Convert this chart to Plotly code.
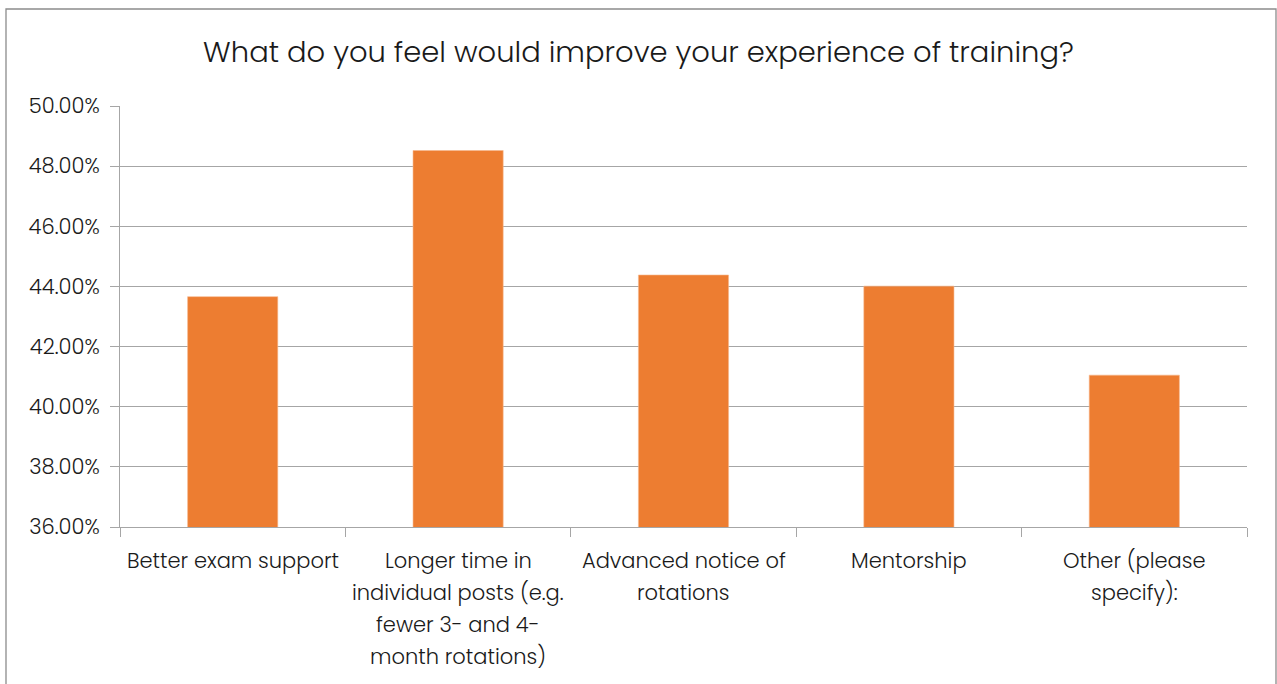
import plotly.graph_objects as go

# Survey responses: share of respondents choosing each option
categories = [
    "Better exam support",
    "Longer time in individual posts (e.g. fewer 3- and 4-month rotations)",
    "Advanced notice of rotations",
    "Mentorship",
    "Other (please specify):",
]
label_lines = [
    ["Better exam support"],
    ["Longer time in", "individual posts (e.g.", "fewer 3- and 4-", "month rotations)"],
    ["Advanced notice of", "rotations"],
    ["Mentorship"],
    ["Other (please", "specify):"],
]
values = [0.4366, 0.4852, 0.4438, 0.4401, 0.4105]
y_ticks = [0.36, 0.38, 0.40, 0.42, 0.44, 0.46, 0.48, 0.50]

FONT = "Poppins, Open Sans, DejaVu Sans, sans-serif"
TEXT = "#1a1a1a"
GRID = "#a6a6a6"

fig = go.Figure(
    go.Bar(
        x=categories,
        y=values,
        marker=dict(color="#ED7D31", line=dict(color="#f6b98f", width=0.6)),
        hoverinfo="x+y",
    )
)

# Wrapped category labels, one annotation per line
annotations = []
for cat, lines in zip(categories, label_lines):
    for i, line in enumerate(lines):
        annotations.append(
            dict(
                x=cat, xref="x", y=0, yref="paper",
                text=line, showarrow=False,
                yanchor="middle", yshift=-33 - 32 * i,
                font=dict(family=FONT, size=21, color=TEXT, weight=300),
            )
        )

# Outer chart frame
plot_l, plot_r, plot_t, plot_b = 120, 1247, 106, 527
pw, ph = plot_r - plot_l, plot_b - plot_t
fig.add_shape(
    type="rect", xref="paper", yref="paper",
    x0=(6 - plot_l) / pw, x1=(1276 - plot_l) / pw,
    y0=-(700 - plot_b) / ph, y1=1 + (plot_t - 9) / ph,
    line=dict(color="#8c8c8c", width=1.3), layer="below",
)

fig.update_layout(
    width=1277, height=684,
    margin=dict(l=plot_l, r=1277 - plot_r, t=plot_t, b=684 - plot_b),
    paper_bgcolor="white", plot_bgcolor="white",
    bargap=0.6,
    showlegend=False,
    font=dict(family=FONT, color=TEXT),
    title=dict(
        text="What do you feel would improve your experience of training?",
        x=0.5, xanchor="center", xref="container",
        y=1 - 52 / 684, yanchor="middle", yref="container",
        font=dict(family=FONT, size=29, color=TEXT, weight=300),
    ),
    annotations=annotations,
)

fig.update_xaxes(
    type="category",
    showticklabels=False,
    tickson="boundaries",
    ticks="outside", ticklen=9, tickcolor=GRID, tickwidth=1.3,
    showline=True, linecolor=GRID, linewidth=1.3,
    showgrid=False,
)
fig.update_yaxes(
    range=[0.36, 0.50],
    tickvals=y_ticks,
    tickformat=".2%",
    ticks="outside", ticklen=9, tickcolor=GRID, tickwidth=1.3,
    ticklabelstandoff=6,
    tickfont=dict(family=FONT, size=21, color=TEXT, weight=300),
    showline=True, linecolor=GRID, linewidth=1.3,
    showgrid=True, gridcolor=GRID, gridwidth=1.3,
    zeroline=False,
)

fig.write_html("out.html")
